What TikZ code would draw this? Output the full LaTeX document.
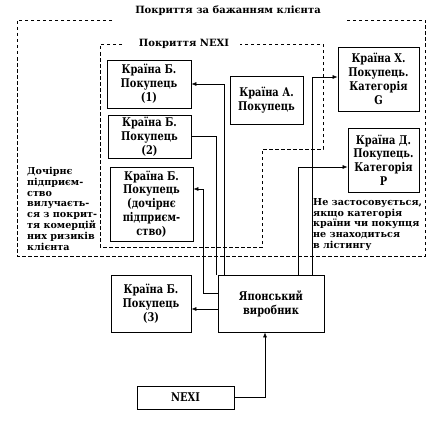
\documentclass[tikz,border=0pt]{standalone}
\usepackage{fontspec}
\setmainfont{DejaVu Serif}
\newfontfamily\boxfont{DejaVu Serif}[FakeStretch=0.82]
\usetikzlibrary{arrows.meta}

\tikzset{
  box/.style={draw, line width=0.8pt, align=center, inner sep=1pt,
    font=\boxfont\bfseries\fontsize{12}{13.8}\selectfont},
  link/.style={line width=0.6pt, -{Latex[length=5pt,width=4pt]}},
  zone/.style={line width=0.6pt, dash pattern=on 3.5pt off 2.5pt},
  note/.style={align=left, inner sep=0pt, anchor=north west,
    font=\bfseries\fontsize{9.6}{10.8}\selectfont},
  title/.style={inner sep=1pt, font=\bfseries\fontsize{10}{12}\selectfont},
}

\begin{document}
\begin{tikzpicture}[x=1pt, y=-1pt]
    \useasboundingbox (0,0) rectangle (433,420);

    % --- zone di copertura ---
    \draw[zone] (112,20) -- (17,20) -- (17,256) -- (425,256) -- (425,20) -- (345,20);
    \node[title] (clienttitle) at (228,11) {Покриття за бажанням клієнта};

    \draw[zone] (122,44) -- (100,44) -- (100,247) -- (262,247) -- (262,149)
    -- (323,149) -- (323,44) -- (240,44);
    \node[title] (nexititle) at (184,44) {Покриття NEXI};

    % --- acquirenti ---
    \node[box, minimum width=84pt, minimum height=48pt] (b1) at (149,84)
    {Країна Б.\\Покупець\\(1)};
    \node[box, minimum width=83pt, minimum height=43pt] (b2) at (149.5,136.5)
    {Країна Б.\\Покупець\\(2)};
    \node[box, minimum width=83pt, minimum height=74pt] (b3) at (151.5,204)
    {Країна Б.\\Покупець\\(дочірнє\\підприєм-\\ство)};
    \node[box, minimum width=73pt, minimum height=48pt] (a) at (266.5,100)
    {Країна А.\\Покупець};
    \node[box, minimum width=81pt, minimum height=64pt] (catg) at (378.5,79)
    {Країна Х.\\Покупець.\\Категорія\\G};
    \node[box, minimum width=71pt, minimum height=64pt] (catp) at (383.5,160)
    {Країна Д.\\Покупець.\\Категорія\\P};
    \node[box, minimum width=80pt, minimum height=57pt] (b4) at (151,303.5)
    {Країна Б.\\Покупець\\(3)};

    % --- produttore e NEXI ---
    \node[box, minimum width=106pt, minimum height=57pt] (jp) at (271,303.5)
    {Японський\\виробник};
    \node[box, minimum width=97pt, minimum height=23pt] (nexi) at (185.5,397.5)
    {NEXI};

    % note
    \node[note] (subnote) at (27,167)
    {Дочірнє\\підприєм-\\ство\\вилучаєть-\\ся з покрит-\\тя комерцій\\них ризиків\\клієнта};
    \node[note] (listnote) at (313,198)
    {Не застосовується,\\якщо категорія\\країни чи покупця\\не знаходиться\\в лістингу};

    % collegamenti
    \draw[link] ([xshift=7pt]jp.north west) |- (b1.east);
    \draw[line width=0.6pt] (b2.east) -| ([xshift=-1.5pt]jp.north west);
    \draw[link] ([yshift=10.5pt]jp.west) -- ++(-14,0) |- ([yshift=15pt]b3.east);
    \draw[link] ([yshift=-5.5pt]jp.west) -- ([yshift=-5.5pt]b4.east);
    \draw[link] ([xshift=-12pt]jp.north east) |- ([yshift=2pt]catg.west);
    \draw[link] ([xshift=-26pt]jp.north east) |- ([yshift=-7pt]catp.west);
    \draw[link] (nexi.east) -| ([xshift=-6pt]jp.south);

\end{tikzpicture}
\end{document}
